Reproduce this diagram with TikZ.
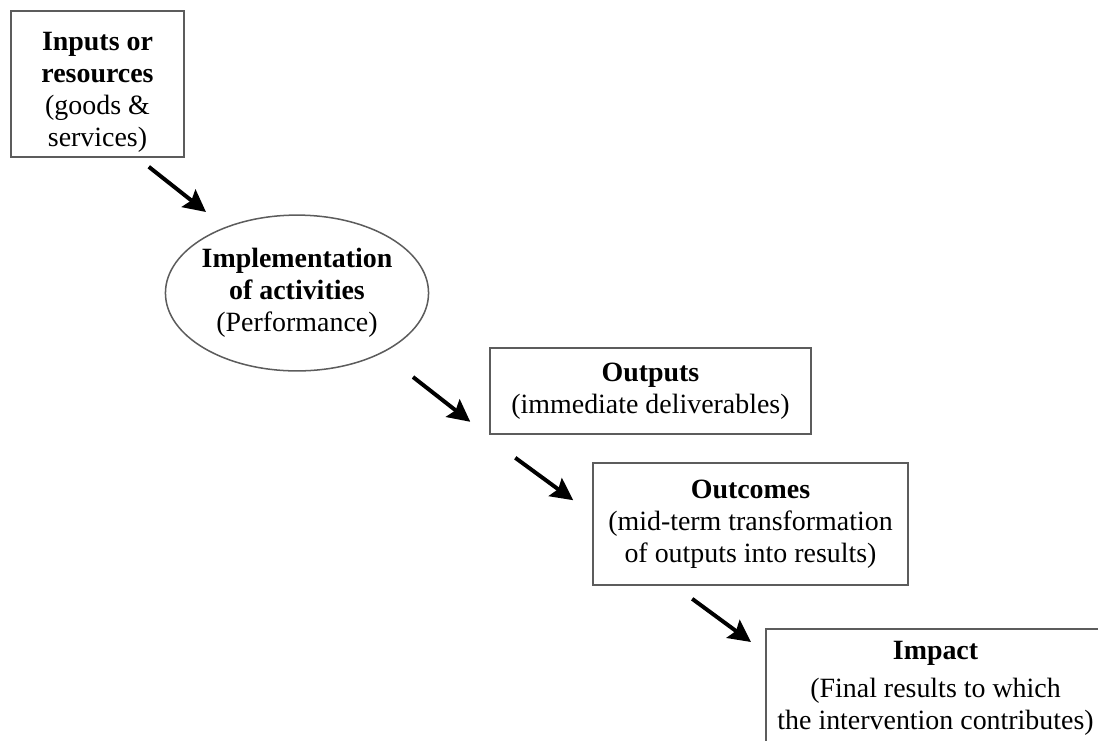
\documentclass[tikz,border=0pt]{standalone}
\usepackage{fontspec}
\setmainfont{Liberation Serif}
\usetikzlibrary{arrows.meta,positioning,shapes.geometric}
\definecolor{EdgeGray}{HTML}{5C5C5C}

\begin{document}
\begin{tikzpicture}[
    x=0.43pt, y=-0.43pt,
    box/.style={draw=EdgeGray, line width=0.65pt, align=center,
                font=\fontsize{12}{13.8}\selectfont, inner sep=0pt},
    oval/.style={box, ellipse, inner xsep=-1pt},
    flow/.style={-{Stealth[length=9.5pt,width=9.5pt,inset=1.5pt]}, line width=1.7pt}
  ]
    \useasboundingbox (0,0) rectangle (1098,740);
    \clip (0,0) rectangle (1098,740);

    \node[box, minimum width=74.4pt, minimum height=62.8pt] (inp) at (97.5,84)
      {\rule{0pt}{15pt}\textbf{Inputs or}\\\textbf{resources}\\(goods \&\\services)};
    \node[oval, minimum width=112pt, minimum height=67pt] (impl) at (297,293)
      {\textbf{Implementation}\\\textbf{of activities}\\(Performance)};
    \node[box, minimum width=138pt, minimum height=37pt] (outp) at (650.5,391)
      {\textbf{Outputs}\\(immediate deliverables)};
    \node[box, minimum width=135.5pt, minimum height=52.5pt] (outc) at (750.5,524)
      {\textbf{Outcomes}\\(mid-term transformation\\of outputs into results)};
    \node[box, anchor=north west, minimum width=146pt, inner ysep=5.5pt,
          text depth=30pt] (imp) at (765,628)
      {\textbf{Impact}\\[2.5pt](Final results to which\\the intervention contributes)};

    % free arrows between the stages
    \coordinate (a1s) at ([shift={(-36,9)}]inp.south east);
    \coordinate (a1e) at ([shift={(-91,-81)}]impl.center);
    \coordinate (a2s) at ([shift={(116,84)}]impl.center);
    \coordinate (a2e) at ([shift={(-19,-13)}]outp.south west);
    \coordinate (a3s) at ([shift={(26,23)}]outp.south west);
    \coordinate (a3e) at ([shift={(-19,38)}]outc.north west);
    \coordinate (a4s) at ([shift={(100,13)}]outc.south west);
    \coordinate (a4e) at ([shift={(-14,14)}]imp.north west);

    \draw[flow] (a1s) -- (a1e);
    \draw[flow] (a2s) -- (a2e);
    \draw[flow] (a3s) -- (a3e);
    \draw[flow] (a4s) -- (a4e);
\end{tikzpicture}
\end{document}
